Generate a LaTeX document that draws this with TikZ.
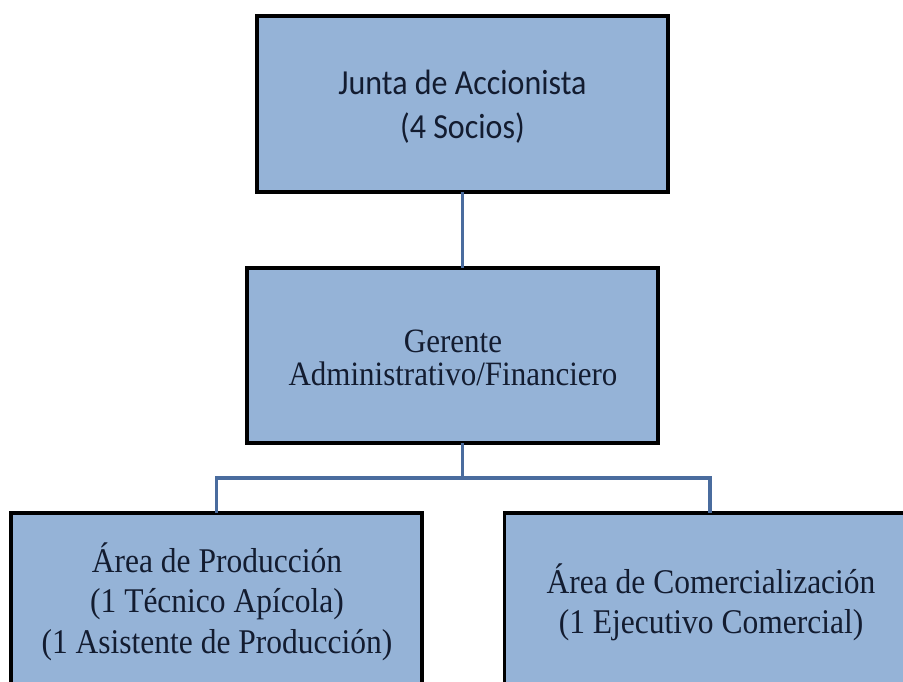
\documentclass[tikz,border=0pt]{standalone}
\usepackage{fontspec}
\setmainfont{Liberation Serif}
\newfontfamily\calfont{Carlito}
\definecolor{boxfill}{HTML}{95B3D7}
\definecolor{linkcol}{HTML}{4A6C9E}
\definecolor{txtcol}{HTML}{131C30}
\newcommand{\tallstack}[1]{\scalebox{1}[1.1]{\begin{tabular}{@{}c@{}}#1\end{tabular}}}
\begin{document}
\begin{tikzpicture}[x=1pt,y=1pt,
  orgbox/.style={draw=black,line width=3.5pt,fill=boxfill,minimum width=411pt,inner sep=0pt,outer sep=0pt},
  orgtext/.style={text=txtcol,align=center,inner sep=0pt},
  link/.style={draw=linkcol,line width=3.5pt}]
\useasboundingbox (0,0) rectangle (903,-682);
\clip (0,0) rectangle (903,-682);
\node[orgbox,minimum height=176pt] (top) at (462.5,-104) {};
\node[orgbox,minimum height=175pt] (mid) at (452.5,-355.5) {};
\node[orgbox,minimum height=217pt] (left) at (216.5,-621.5) {};
\node[orgbox,minimum height=217pt] (right) at (710,-621.5) {};
\coordinate (bar) at (462.5,-478);
\draw[link] (top.south) -- (top.south |- mid.north);
\draw[link] (top.south |- mid.south) -- (bar);
\draw[link] (left.north) |- (bar) -| (right.north);
\node[orgtext,font=\calfont\fontsize{32}{40}\selectfont] (toptxt) at (462.5,-108) {\tallstack{Junta de Accionista\\(4 Socios)}};
\node[orgtext,font=\fontsize{31}{26.5}\selectfont] (midtxt) at (453,-362) {\tallstack{Gerente\\Administrativo/Financiero}};
\node[orgtext,font=\fontsize{31.5}{36.5}\selectfont] (lefttxt) at (217,-604) {\tallstack{Área de Producción\\(1 Técnico Apícola)\\(1 Asistente de Producción)}};
\node[orgtext,font=\fontsize{31.5}{36.5}\selectfont] (righttxt) at (711,-605) {\tallstack{Área de Comercialización\\(1 Ejecutivo Comercial)}};
\end{tikzpicture}
\end{document}
